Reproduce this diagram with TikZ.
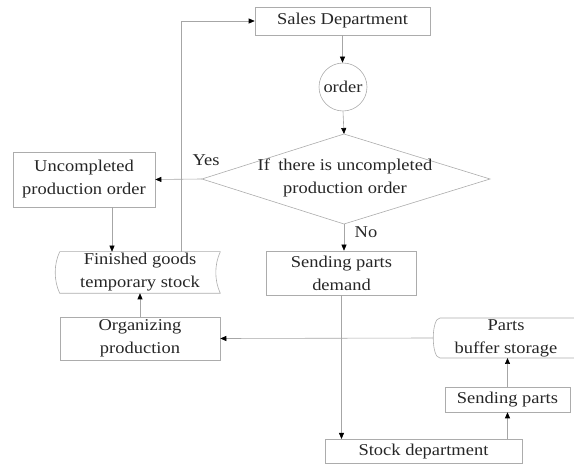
\documentclass[tikz,border=0pt]{standalone}
\usepackage{fontspec}
\setmainfont{Liberation Serif}[FakeStretch=1.12]
\usetikzlibrary{arrows.meta,calc}
\begin{document}
\begin{tikzpicture}[x=1pt,y=-1pt,
  line width=0.6pt,
  every node/.style={font=\fontsize{16.5}{23}\selectfont, text=black!85, inner sep=0pt, align=center},
  procbox/.style={draw=gray!65, minimum width=#1},
  arr/.style={draw=gray!70, -{Triangle[length=6pt,width=5pt,color=black]}},
  link/.style={draw=gray!70}]
\useasboundingbox (0,0) rectangle (574,465);

% --- boxes ---
\node[procbox=175, minimum height=28] (sales) at (342.5,21) {Sales Department};
\node[draw=gray!65, circle, minimum size=48] (order) at (343,87) {order};

% decision diamond
\coordinate (dt) at (344,134);
\coordinate (db) at (344,224);
\coordinate (dl) at (202,179);
\coordinate (dr) at (490,179);
\draw[gray!65] (dt) -- (dr) -- (db) -- (dl) -- cycle;
\node (dec) at (345,178) {If\enspace there is uncompleted\\production order};

\node[procbox=142, minimum height=55] (unc) at (84,179.5) {Uncompleted\\production order};

% finished goods temporary stock (stored-data outline)
\node[minimum width=160, minimum height=41] (fg) at (140,272.5) {Finished goods\\temporary stock};
\draw[gray!65] (fg.north west) -- (fg.north east)
  .. controls ($(fg.north east)+(-6,13)$) and ($(fg.south east)+(-6,-13)$) .. (fg.south east)
  -- (fg.south west)
  .. controls ($(fg.south west)+(-6,-13)$) and ($(fg.north west)+(-6,13)$) .. (fg.north west);

\node[procbox=150, minimum height=44] (spd) at (341.5,273) {Sending parts\\demand};
\node[procbox=160, minimum height=43] (org) at (140,338.5) {Organizing\\production};

% parts buffer storage (open to the right edge)
\node (pb) at (506,338) {Parts\\buffer storage};
\coordinate (pbw) at (433,338);
\draw[gray!65] (578,318) -- (440,318)
  .. controls (431,318) and (431,358) .. (440,358) -- (578,358);

\node[procbox=125, minimum height=25] (sp) at (507.5,399.5) {Sending parts};
\node[procbox=197, minimum height=24.5] (stock) at (423.5,451.5) {Stock department};

% --- connectors ---
\draw[arr] (sales.south) -- (order.north -| sales.south);
\draw[arr] (order.south) -- (dt);
\draw[arr] (dl) -- (unc.east);
\node at (206,160) {Yes};
\draw[arr] (db) -- (spd.north -| db);
\node at (366,232) {No};

\draw[arr] ([xshift=28]unc.south) coordinate (u1) -- (u1 |- fg.north);
\draw[arr] ([xshift=41]fg.north) |- (sales.west);
\draw[arr] (org.north) -- (fg.south);
\draw[arr] (pbw) -- (org.east);

\draw[arr] (spd.south) -- (spd.south |- stock.north);
\draw[arr] (stock.north -| sp.south) -- (sp.south);
\draw[arr] (sp.north) -- (sp.north |- 0,358);
\end{tikzpicture}
\end{document}
